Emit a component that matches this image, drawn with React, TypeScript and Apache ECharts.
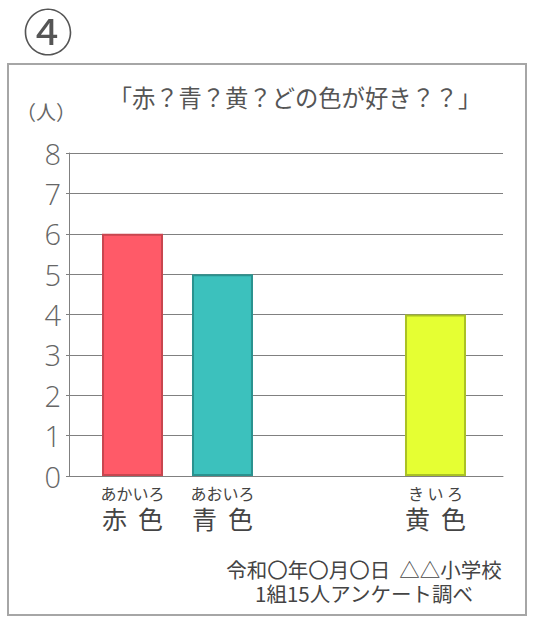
import React, { useEffect, useRef } from "react";
import * as echarts from "echarts";

const categories = ["赤色", "青色", "黄色"];
const readings = ["あかいろ", "あおいろ", "き い ろ"];
const values = [6, 5, 4];
const barColors = ["#ff5a68", "#3cc1bd", "#e5ff33"];
const borderColors = ["#c8464f", "#2a928f", "#aac224"];
const yTicks = [0, 1, 2, 3, 4, 5, 6, 7, 8];
const titleText = "「赤？青？黄？どの色が好き？？」";
const unitText = "（人）";
const footerLines = ["令和〇年〇月〇日  △△小学校", "1組15人アンケート調べ"];

const FONT = '"Noto Sans CJK JP", "Noto Sans", sans-serif';

export default function App() {
  const ref = useRef<HTMLDivElement>(null);
  useEffect(() => {
    if (!ref.current) return;
    const chart = echarts.init(ref.current, null, { renderer: "svg" });
    // two slots: red & blue share first slot, yellow in second slot
    const slotOf = [0, 0, 1];
    const laneOf = [0, 1, 1];
    const lanes = [0, 1].map((lane) => {
      const data: any[] = ["-", "-"];
      categories.forEach((c, i) => {
        if (laneOf[i] === lane) {
          data[slotOf[i]] = {
            value: values[i],
            name: c,
            itemStyle: { color: barColors[i], borderColor: borderColors[i], borderWidth: 2 },
            label: {
              formatter: `{r|${readings[i]}}\n{k|${c.split("").join("  ")}}`,
            },
          };
        }
      });
      return {
        type: "bar",
        xAxisIndex: 1,
        yAxisIndex: 1,
        barWidth: 61,
        barGap: "47.5%",
        data,
        label: {
          show: true,
          position: "bottom",
          distance: 8,
          align: "center",
          rich: {
            r: { fontSize: 16, lineHeight: 18, color: "#444", fontFamily: FONT, align: "center" },
            k: { fontSize: 25, lineHeight: 32, color: "#444", fontFamily: FONT, align: "center" },
          },
        },
      };
    });
    chart.setOption({
      animation: false,
      backgroundColor: "#fff",
      grid: [
        { left: 69, right: 35, top: 153, bottom: 144 },
        { left: 71, right: 41, top: 153, bottom: 144 },
      ],
      xAxis: [
        {
          gridIndex: 0,
          type: "category",
          data: [""],
          axisLine: { lineStyle: { color: "#808080", width: 1 } },
          axisTick: { show: false },
          axisLabel: { show: false },
        },
        {
          gridIndex: 1,
          type: "category",
          data: ["", ""],
          show: false,
        },
      ],
      yAxis: [
        {
          gridIndex: 0,
          type: "value",
          min: yTicks[0],
          max: yTicks[yTicks.length - 1],
          interval: 1,
          axisLine: { show: true, lineStyle: { color: "#808080" } },
          axisTick: { show: true, length: 3, lineStyle: { color: "#808080" } },
          splitLine: { lineStyle: { color: "#808080", width: 1 } },
          axisLabel: { fontSize: 29, color: "#666", fontFamily: '"Open Sans", sans-serif', fontWeight: 300, margin: 8 },
        },
        { gridIndex: 1, type: "value", min: 0, max: 8, show: false },
      ],
      series: lanes,
      graphic: [
        {
          type: "rect",
          shape: { x: 8, y: 64, width: 518, height: 551 },
          style: { fill: "none", stroke: "#a6a6a6", lineWidth: 2 },
          z: -1,
        },
        {
          type: "text",
          x: 48,
          y: 29,
          style: {
            text: "④",
            fontSize: 50,
            fill: "#555",
            stroke: "#ffffff",
            lineWidth: 3,
            fontFamily: FONT,
            align: "center",
            verticalAlign: "middle",
          },
        },
        {
          type: "text",
          x: 46,
          y: 111,
          style: { text: unitText, fontSize: 20, fill: "#666", fontFamily: FONT, align: "center", verticalAlign: "middle" },
        },
        {
          type: "text",
          x: 295,
          y: 97,
          style: { text: titleText, fontSize: 23.3, fill: "#555", fontFamily: FONT, align: "center", verticalAlign: "middle" },
        },
        ...footerLines.map((t, i) => ({
          type: "text",
          x: 364,
          y: 569 + i * 24,
          style: {
            text: t,
            fontSize: 20.5,
            fill: "#444",
            fontFamily: FONT,
            align: "center",
            verticalAlign: "middle",
          },
        })),
      ],
    });
    return () => chart.dispose();
  }, []);
  return <div ref={ref} style={{ position: "fixed", left: 0, top: 0, width: 538, height: 620 }} />;
}
